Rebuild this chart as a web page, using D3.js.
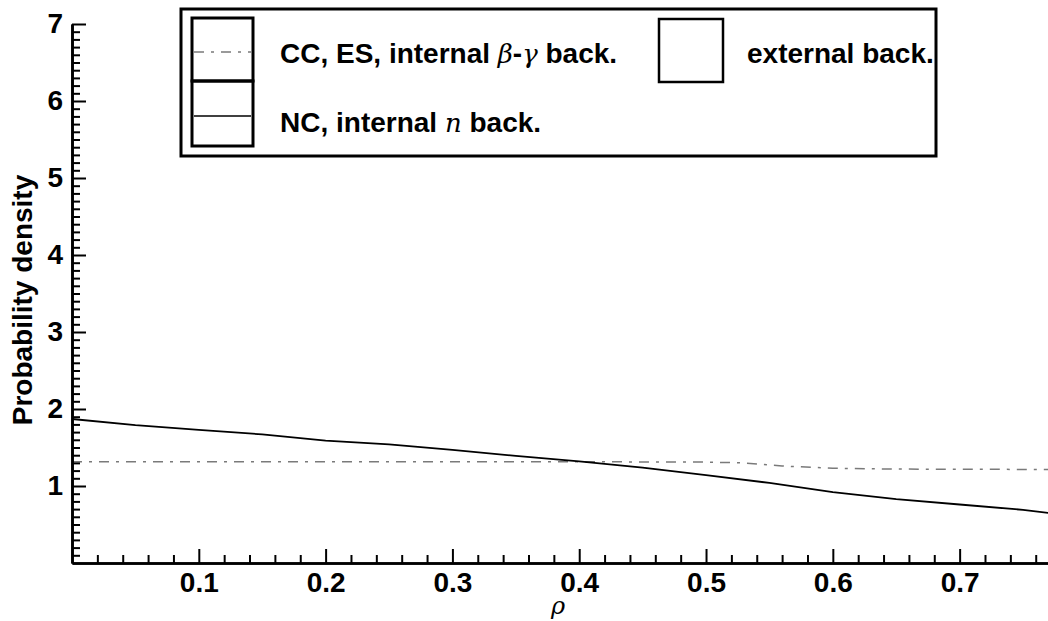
<!DOCTYPE html>
<html>
<head>
<meta charset="utf-8">
<script src="https://cdn.jsdelivr.net/npm/d3@7"></script>
<style>
  html, body { margin: 0; padding: 0; background: #fff; }
  svg { display: block; }
  text { font-family: "Liberation Sans", Arial, sans-serif; }
</style>
</head>
<body>
<svg id="chart" width="1048" height="621"></svg>
<script>
// ---- data ----
const ncRho    = [0.00, 0.05, 0.10, 0.15, 0.20, 0.25, 0.30, 0.35, 0.40, 0.45, 0.50, 0.55, 0.60, 0.65, 0.70, 0.75, 0.77];
const ncValues = [1.87, 1.79, 1.73, 1.67, 1.59, 1.54, 1.47, 1.39, 1.32, 1.24, 1.14, 1.04, 0.92, 0.83, 0.76, 0.69, 0.65];

const ccRho    = [0.00, 0.10, 0.20, 0.30, 0.40, 0.50, 0.53, 0.56, 0.60, 0.65, 0.70, 0.77];
const ccValues = [1.315, 1.315, 1.315, 1.315, 1.315, 1.31, 1.30, 1.26, 1.23, 1.22, 1.217, 1.215];

const xTickValues = [0.1, 0.2, 0.3, 0.4, 0.5, 0.6, 0.7];
const yTickValues = [1, 2, 3, 4, 5, 6, 7];
const xLabel = "ρ";
const yLabel = "Probability density";
const legendLabels = ["CC, ES, internal ", "NC, internal ", "external back."];

// ---- layout ----
const svg = d3.select("#chart");
const x = d3.scaleLinear().domain([0, 0.77]).range([72, 1048.4]);
const y = d3.scaleLinear().domain([0, 7]).range([563, 24]);

const minorX = d3.range(1, 39).map(i => +(i * 0.02).toFixed(2)).filter(v => Math.abs(v * 10 - Math.round(v * 10)) > 1e-6);
const minorY = d3.range(1, 70).map(i => +(i * 0.1).toFixed(1)).filter(v => Math.abs(v - Math.round(v)) > 1e-6);

// data lines (drawn first, axes on top)
const line = d3.line().x(d => x(d[0])).y(d => y(d[1]));
svg.append("path")
  .datum(ccRho.map((r, i) => [r, ccValues[i]]))
  .attr("d", line)
  .attr("fill", "none")
  .attr("stroke", "#7a7a7a")
  .attr("stroke-width", 1.5)
  .attr("stroke-dasharray", "10,7,3,7");
svg.append("path")
  .datum(ncRho.map((r, i) => [r, ncValues[i]]))
  .attr("d", line)
  .attr("fill", "none")
  .attr("stroke", "#000")
  .attr("stroke-width", 1.8);

// axes
function styleAxis(g) {
  g.select(".domain").attr("stroke", "#000").attr("stroke-width", 2.6);
  g.selectAll(".tick line").attr("stroke", "#000").attr("stroke-width", 2);
  g.selectAll(".tick text").attr("fill", "#000")
    .style("font-family", '"Liberation Sans", Arial, sans-serif')
    .style("font-weight", "bold").style("font-size", "28px");
}

svg.append("g").attr("transform", `translate(0,${y(0)})`)
  .call(d3.axisBottom(x).tickValues(minorX).tickSize(-8).tickSizeOuter(0).tickFormat(""))
  .call(styleAxis);
svg.append("g").attr("transform", `translate(0,${y(0)})`)
  .call(d3.axisBottom(x).tickValues(xTickValues).tickSize(-14).tickSizeOuter(0).tickPadding(9).tickFormat(d3.format(".1f")))
  .call(styleAxis);

svg.append("g").attr("transform", `translate(${x(0)},0)`)
  .call(d3.axisLeft(y).tickValues(minorY).tickSize(-8).tickSizeOuter(0).tickFormat(""))
  .call(styleAxis);
svg.append("g").attr("transform", `translate(${x(0)},0)`)
  .call(d3.axisLeft(y).tickValues(yTickValues).tickSize(-14).tickSizeOuter(0).tickPadding(9).tickFormat(d3.format("d")))
  .call(styleAxis);

// axis titles
svg.append("text")
  .attr("transform", "translate(32,300) rotate(-90)")
  .attr("text-anchor", "middle")
  .style("font-weight", "bold").style("font-size", "28px")
  .text(yLabel);
svg.append("text")
  .attr("x", 558).attr("y", 614)
  .attr("text-anchor", "middle")
  .style("font-family", '"DejaVu Serif", serif').style("font-style", "italic").style("font-size", "24px")
  .text(xLabel);

// legend
const leg = svg.append("g");
leg.append("rect").attr("x", 181).attr("y", 9).attr("width", 755).attr("height", 147)
  .attr("fill", "#fff").attr("stroke", "#000").attr("stroke-width", 3);
// swatches
leg.append("rect").attr("x", 192).attr("y", 18).attr("width", 61).attr("height", 63)
  .attr("fill", "none").attr("stroke", "#000").attr("stroke-width", 3);
leg.append("rect").attr("x", 192).attr("y", 81).attr("width", 61).attr("height", 65)
  .attr("fill", "none").attr("stroke", "#000").attr("stroke-width", 3);
leg.append("rect").attr("x", 659).attr("y", 19).attr("width", 64).attr("height", 63)
  .attr("fill", "none").attr("stroke", "#000").attr("stroke-width", 2.5);
leg.append("line").attr("x1", 194).attr("x2", 251).attr("y1", 52).attr("y2", 52)
  .attr("stroke", "#7a7a7a").attr("stroke-width", 1.5).attr("stroke-dasharray", "10,7,3,7");
leg.append("line").attr("x1", 194).attr("x2", 251).attr("y1", 116).attr("y2", 116)
  .attr("stroke", "#000").attr("stroke-width", 1.5);

const mathStyle = t => t.style("font-family", '"DejaVu Serif", serif').style("font-style", "italic").style("font-weight", "normal");

const t1 = leg.append("text").attr("x", 280).attr("y", 63)
  .style("font-weight", "bold").style("font-size", "28px");
t1.append("tspan").text(legendLabels[0]);
t1.append("tspan").text("β").call(mathStyle).style("font-size", "26px");
t1.append("tspan").text("-");
t1.append("tspan").text("γ").call(mathStyle).style("font-size", "26px");
t1.append("tspan").text(" back.");

const t2 = leg.append("text").attr("x", 280).attr("y", 132)
  .style("font-weight", "bold").style("font-size", "28px");
t2.append("tspan").text(legendLabels[1]);
t2.append("tspan").text("n").call(mathStyle).style("font-size", "26px");
t2.append("tspan").text(" back.");

leg.append("text").attr("x", 747).attr("y", 63)
  .style("font-weight", "bold").style("font-size", "28px")
  .text(legendLabels[2]);
</script>
</body>
</html>
